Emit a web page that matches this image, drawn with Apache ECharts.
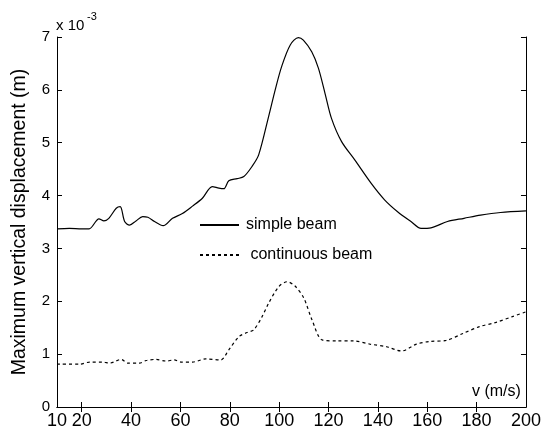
<!DOCTYPE html>
<html>
<head>
<meta charset="utf-8">
<script src="https://cdn.jsdelivr.net/npm/echarts@6/dist/echarts.min.js"></script>
<style>
html,body{margin:0;padding:0;background:#fff;}
#chart{width:544px;height:430px;}
</style>
</head>
<body>
<div id="chart"></div>
<script>
// v (m/s) and displacement (x 10^-3 m)
const simpleX = [10, 15, 20, 23, 27, 29, 31, 34, 35.6, 37.4, 39.4, 42, 44.7, 46.8, 49.5, 53, 56.8, 60.8, 64.9, 68.9, 72.9, 75.6, 77.6, 79.6, 83, 85.7, 89, 91.7, 95.7, 98.4, 101, 104.5, 107.8, 109.8, 113.2, 115.9, 118.6, 121.2, 125.3, 130.7, 137.3, 142.7, 148.1, 153.4, 157.5, 161.5, 168.2, 174.9, 181.6, 189.7, 200];
const simpleY = [3.37, 3.38, 3.37, 3.37, 3.56, 3.52, 3.57, 3.76, 3.79, 3.51, 3.44, 3.52, 3.60, 3.59, 3.51, 3.43, 3.57, 3.66, 3.80, 3.95, 4.17, 4.14, 4.13, 4.28, 4.32, 4.36, 4.55, 4.77, 5.49, 6.0, 6.44, 6.85, 6.99, 6.94, 6.72, 6.41, 5.93, 5.46, 5.02, 4.67, 4.23, 3.92, 3.69, 3.51, 3.38, 3.39, 3.51, 3.57, 3.63, 3.68, 3.71];
const contX = [10, 19.3, 23.3, 28.6, 31.3, 36, 38.7, 43.4, 46.1, 50.1, 54.1, 57.5, 60.2, 64.9, 70.3, 76.3, 79.6, 83.7, 87, 89.7, 93.1, 95.7, 99.9, 103.3, 106.6, 110, 113.3, 117.4, 123.4, 130.1, 136.8, 143.5, 149.6, 155.6, 161, 167.7, 174.4, 181.1, 187.8, 194.5, 200];
const contY = [0.81, 0.81, 0.85, 0.85, 0.83, 0.90, 0.83, 0.83, 0.88, 0.90, 0.87, 0.89, 0.85, 0.85, 0.91, 0.89, 1.08, 1.33, 1.41, 1.46, 1.71, 1.96, 2.28, 2.37, 2.28, 2.06, 1.65, 1.27, 1.25, 1.25, 1.19, 1.14, 1.06, 1.19, 1.24, 1.26, 1.39, 1.52, 1.60, 1.71, 1.80];
const xLabels = [10, 20, 40, 60, 80, 100, 120, 140, 160, 180, 200];
const xTicks = [20, 40, 60, 80, 100, 120, 140, 160, 180];
const seriesNames = ['simple beam', 'continuous beam'];

const FONT = 'Liberation Sans, Arial, sans-serif';
const chart = echarts.init(document.getElementById('chart'), null, {renderer: 'canvas'});
const axisLine = {show: true, lineStyle: {color: '#000', width: 1}};
const tick = {show: true, inside: true, length: 5, lineStyle: {color: '#000', width: 1}};

chart.setOption({
  animation: false,
  backgroundColor: '#fff',
  grid: {left: 57, right: 15, top: 37, bottom: 23, containLabel: false},
  legend: {
    orient: 'vertical',
    left: 194,
    top: 212,
    itemWidth: 39,
    itemHeight: 14,
    itemGap: 14,
    data: seriesNames,
    itemStyle: {opacity: 0, borderWidth: 0},
    formatter: function (name) { return name === 'continuous beam' ? ' ' + name : name; },
    textStyle: {color: '#000', fontFamily: FONT, fontSize: 16, padding: [0, 0, 0, 2]}
  },
  xAxis: [
    {type: 'value', min: 10, max: 200, position: 'bottom',
     axisLine: axisLine, splitLine: {show: false},
     axisTick: Object.assign({customValues: xTicks}, tick),
     axisLabel: {customValues: xLabels, color: '#000', fontFamily: FONT, fontSize: 18, margin: 5}},
    {type: 'value', min: 10, max: 200, position: 'top',
     axisLine: axisLine, splitLine: {show: false},
     axisTick: Object.assign({customValues: xTicks}, tick),
     axisLabel: {show: false}}
  ],
  yAxis: [
    {type: 'value', min: 0, max: 7, interval: 1, position: 'left',
     name: 'Maximum vertical displacement (m)', nameLocation: 'middle', nameGap: 27, nameRotate: 90,
     nameTextStyle: {color: '#000', fontFamily: FONT, fontSize: 19.5},
     axisLine: axisLine, splitLine: {show: false}, axisTick: tick,
     axisLabel: {color: '#000', fontFamily: FONT, fontSize: 15, margin: 7}},
    {type: 'value', min: 0, max: 7, interval: 1, position: 'right',
     axisLine: axisLine, splitLine: {show: false}, axisTick: tick,
     axisLabel: {show: false}}
  ],
  graphic: [
    {type: 'text', left: 56, top: 18, style: {text: 'x 10', fill: '#000', font: '15px ' + FONT}},
    {type: 'text', left: 87, top: 11, style: {text: '-3', fill: '#000', font: '11px ' + FONT}},
    {type: 'text', left: 472, top: 384, style: {text: 'v (m/s)', fill: '#000', font: '16px ' + FONT}}
  ],
  series: [
    {name: seriesNames[0], type: 'line', showSymbol: false, symbol: 'none', smooth: 0.3,
     data: simpleX.map((x, i) => [x, simpleY[i]]),
     lineStyle: {color: '#000', width: 1.2, type: 'solid'}, itemStyle: {color: '#000'}},
    {name: seriesNames[1], type: 'line', showSymbol: false, symbol: 'none', smooth: 0.3,
     data: contX.map((x, i) => [x, contY[i]]),
     lineStyle: {color: '#000', width: 1.2, type: [3, 3]}, itemStyle: {color: '#000'}}
  ]
});
</script>
</body>
</html>
